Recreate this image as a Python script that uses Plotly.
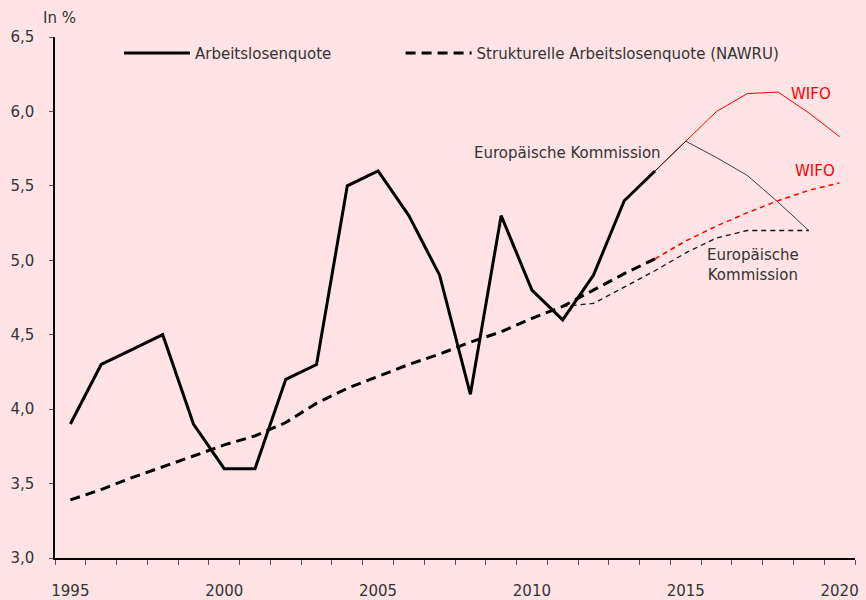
import plotly.graph_objects as go

# ---- data ----
years_hist = list(range(1995, 2015))
alq_hist = [3.9, 4.3, 4.4, 4.5, 3.9, 3.6, 3.6, 4.2, 4.3, 5.5,
            5.6, 5.3, 4.9, 4.1, 5.3, 4.8, 4.6, 4.9, 5.4, 5.6]
nawru_hist = [3.39, 3.46, 3.54, 3.61, 3.685, 3.76, 3.82, 3.91, 4.04, 4.14,
              4.22, 4.30, 4.37, 4.45, 4.52, 4.61, 4.69, 4.80, 4.91, 5.01]

years_wifo = list(range(2014, 2021))
alq_wifo = [5.6, 5.8, 6.0, 6.12, 6.13, 5.99, 5.83]
nawru_wifo = [5.01, 5.13, 5.23, 5.32, 5.40, 5.47, 5.52]

years_ec_alq = list(range(2014, 2020))
alq_ec = [5.6, 5.8, 5.69, 5.57, 5.39, 5.2]
years_ec_nawru = list(range(2011, 2020))
nawru_ec = [4.69, 4.71, 4.82, 4.93, 5.05, 5.15, 5.2, 5.2, 5.2]

x_tick_vals = [1995, 2000, 2005, 2010, 2015, 2020]
x_tick_text = ["1995", "2000", "2005", "2010", "2015", "2020"]

BG = "#FFE3E5"
FONT = "DejaVu Sans"
FS = 15
TXT = "#333333"
RED = "#FF0000"

fig = go.Figure()

fig.add_trace(go.Scatter(x=years_wifo, y=alq_wifo, mode="lines",
                         line=dict(color=RED, width=1), showlegend=False, hoverinfo="skip"))
fig.add_trace(go.Scatter(x=years_ec_alq, y=alq_ec, mode="lines",
                         line=dict(color="rgba(20,20,20,0.8)", width=1), showlegend=False, hoverinfo="skip"))
fig.add_trace(go.Scatter(x=years_wifo, y=nawru_wifo, mode="lines",
                         line=dict(color=RED, width=1.5, dash="5px,4px"), showlegend=False, hoverinfo="skip"))
fig.add_trace(go.Scatter(x=years_ec_nawru, y=nawru_ec, mode="lines",
                         line=dict(color="#111111", width=1.3, dash="5px,4px"), showlegend=False, hoverinfo="skip"))

fig.add_trace(go.Scatter(x=years_hist, y=alq_hist, mode="lines", name="Arbeitslosenquote",
                         line=dict(color="black", width=3), legend="legend"))
fig.add_trace(go.Scatter(x=years_hist, y=nawru_hist, mode="lines",
                         name="Strukturelle Arbeitslosenquote (NAWRU)",
                         line=dict(color="black", width=3, dash="10px,6px"), legend="legend2"))

annos = [
    dict(x=2014.25, y=5.72, text="Europäische Kommission", xanchor="right", yanchor="middle",
         font=dict(color=TXT)),
    dict(x=2019.08, y=6.117, text="WIFO", xanchor="center", yanchor="middle", font=dict(color=RED)),
    dict(x=2019.2, y=5.60, text="WIFO", xanchor="center", yanchor="middle", font=dict(color=RED)),
    dict(x=2017.2, y=4.97, text="Europäische<br>Kommission", xanchor="center", yanchor="middle",
         font=dict(color=TXT)),
]
for a in annos:
    a.update(xref="x", yref="y", showarrow=False)
    a["font"].update(family=FONT, size=FS)
    fig.add_annotation(**a)

fig.add_annotation(xref="paper", yref="paper", x=0.006, y=1.036, text="In %", showarrow=False,
                   xanchor="center", yanchor="middle", font=dict(family=FONT, size=FS, color=TXT))

leg_common = dict(orientation="h", y=0.969, xanchor="left", yanchor="middle",
                  bgcolor="rgba(0,0,0,0)", font=dict(family=FONT, size=FS, color=TXT), itemwidth=66)

fig.update_layout(
    width=866, height=600,
    margin=dict(l=55, r=11, t=37, b=42),
    paper_bgcolor=BG, plot_bgcolor=BG,
    font=dict(family=FONT, size=FS, color=TXT),
    separators=",.",
    legend=dict(x=0.08, **leg_common),
    legend2=dict(x=0.432, **leg_common),
    xaxis=dict(range=[1994.5, 2020.5], tickvals=x_tick_vals, ticktext=x_tick_text,
               ticks="", showgrid=False, zeroline=False, automargin=False,
               showline=True, linecolor="black", linewidth=1.5,
               ticklabelstandoff=18,
               minor=dict(tick0=1994.5, dtick=1, ticks="outside", ticklen=5,
                          tickcolor="#555555", showgrid=False)),
    yaxis=dict(range=[3.0, 6.5], dtick=0.5, tickformat=".1f", ticks="outside", ticklen=4,
               tickcolor="#555555", showgrid=False, zeroline=False, automargin=False,
               showline=True, linecolor="black", linewidth=1.5, ticklabelstandoff=12),
)

fig.write_html("out.html", config={"displayModeBar": False},
               post_script="document.body.style.margin='0';document.body.style.background='%s';" % BG)
